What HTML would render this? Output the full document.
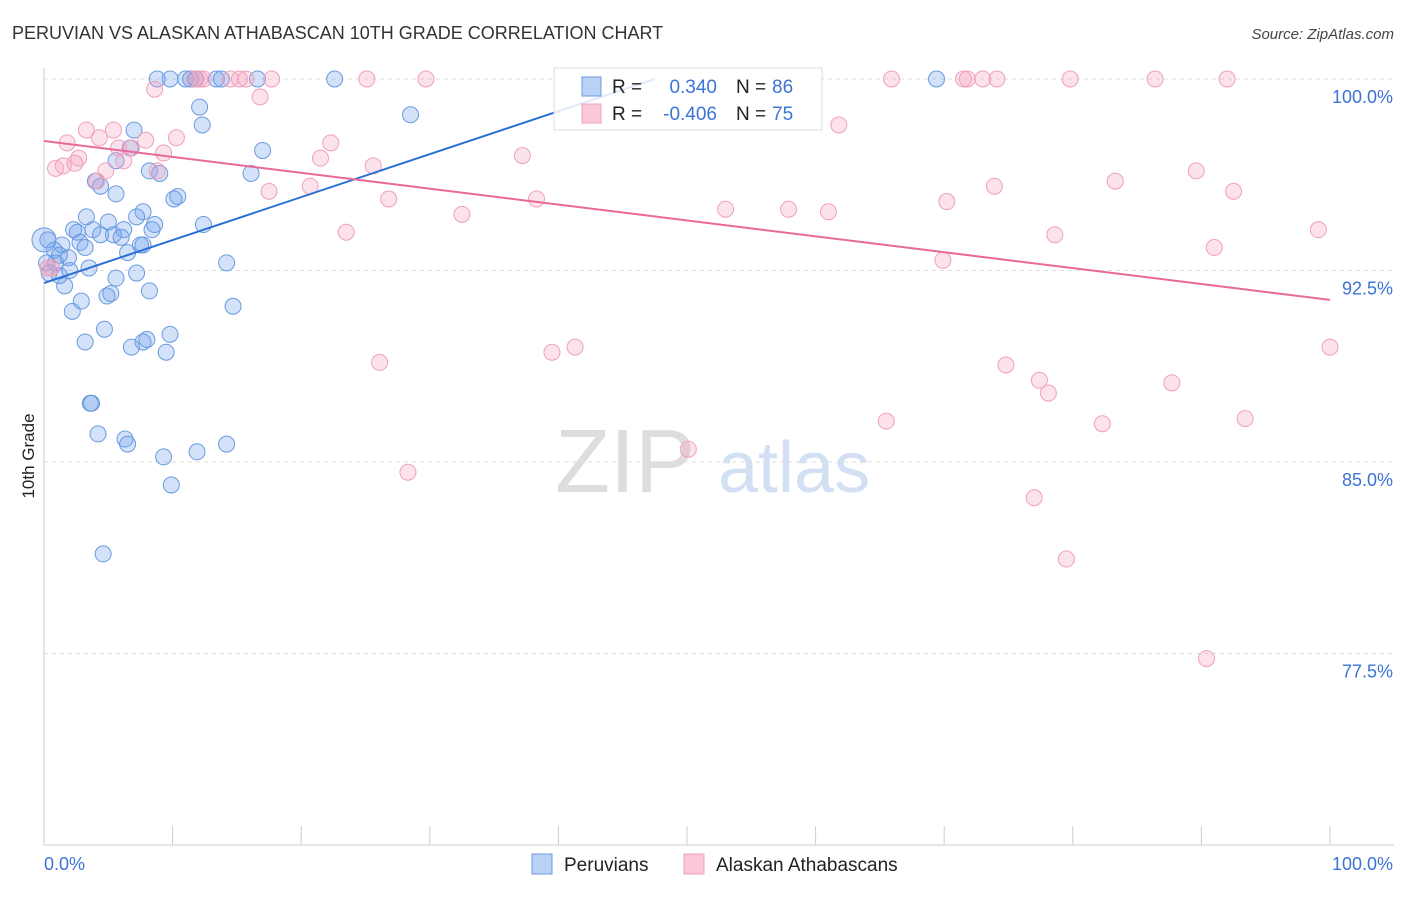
<!DOCTYPE html>
<html><head><meta charset="utf-8"><style>
body{margin:0;background:#fff;font-family:"Liberation Sans",sans-serif;}
svg text{font-family:"Liberation Sans",sans-serif;}
</style></head><body>
<svg id="chart" width="1406" height="892">
<text x="12" y="39" font-size="18" fill="#333">PERUVIAN VS ALASKAN ATHABASCAN 10TH GRADE CORRELATION CHART</text>
<text x="1394" y="39" font-size="15" fill="#444" font-style="italic" text-anchor="end">Source: ZipAtlas.com</text>
<text x="34" y="456" font-size="17" fill="#222" transform="rotate(-90 34 456)" text-anchor="middle">10th Grade</text>
<g><text x="555" y="492" font-size="90" fill="#ddd" font-family="Liberation Serif,serif">ZIP</text><text x="718" y="492" font-size="72" fill="#d3e0f4">atlas</text></g>
<g id="grid"></g><g id="axes"></g><g id="pts"></g><g id="lines"></g>
<g>
<rect x="554" y="68" width="268" height="62" fill="#fff" fill-opacity="0.85" stroke="#ddd"/>
<rect x="582" y="77" width="19" height="19" fill="#b9d2f5" stroke="#6a9be0"/>
<rect x="582" y="104" width="19" height="19" fill="#fac8d8" stroke="#f0a0bc"/>
<text x="612" y="93" font-size="19" fill="#222">R =</text>
<text x="717" y="93" font-size="19" fill="#3b73d6" text-anchor="end">0.340</text>
<text x="736" y="93" font-size="19" fill="#222">N =</text>
<text x="772" y="93" font-size="19" fill="#3b73d6">86</text>
<text x="612" y="120" font-size="19" fill="#222">R =</text>
<text x="717" y="120" font-size="19" fill="#3b73d6" text-anchor="end">-0.406</text>
<text x="736" y="120" font-size="19" fill="#222">N =</text>
<text x="772" y="120" font-size="19" fill="#3b73d6">75</text>
</g>
<g>
<rect x="532" y="854" width="20" height="20" fill="#b9d2f5" stroke="#6a9be0"/>
<text x="564" y="871" font-size="19" fill="#222">Peruvians</text>
<rect x="684" y="854" width="20" height="20" fill="#fac8d8" stroke="#f0a0bc"/>
<text x="716" y="871" font-size="19" fill="#222">Alaskan Athabascans</text>
</g>
</svg>
<script>
const yTicks=[100,92.5,85,77.5];
const yTickLabels=["100.0%","92.5%","85.0%","77.5%"];
const xTickLabels=["0.0%","100.0%"];
const blueX=[8.8,9.8,11.0,11.4,11.8,13.4,13.8,16.6,22.6,69.4,12.1,28.5,12.3,7.0,17.0,5.6,6.7,16.1,8.2,9.0,4.0,4.4,5.6,10.4,10.1,7.7,7.2,5.0,3.3,8.6,12.4,2.3,2.6,4.4,3.8,6.2,5.4,6.0,8.4,0.3,1.4,2.8,3.2,7.5,7.7,6.5,0.8,1.2,1.9,0.2,0.9,3.5,2.0,0.4,1.2,14.2,7.2,5.6,1.6,8.2,5.2,4.9,2.9,14.7,2.2,4.7,9.8,3.2,8.0,7.7,6.8,9.5,3.7,3.6,4.2,6.3,6.5,14.2,11.9,9.3,9.9,4.6,0.0];
const blueY=[100,100,100,100,100,100,100,100,100,100,98.9,98.6,98.2,98.0,97.2,96.8,97.3,96.3,96.4,96.3,96.0,95.8,95.5,95.4,95.3,94.8,94.6,94.4,94.6,94.3,94.3,94.1,94.0,93.9,94.1,94.1,93.9,93.8,94.1,93.7,93.5,93.6,93.4,93.5,93.5,93.2,93.3,93.1,93.0,92.8,92.8,92.6,92.5,92.4,92.3,92.8,92.4,92.2,91.9,91.7,91.6,91.5,91.3,91.1,90.9,90.2,90.0,89.7,89.8,89.7,89.5,89.3,87.3,87.3,86.1,85.9,85.7,85.7,85.4,85.2,84.1,81.4,93.7];
const pinkX=[8.6,11.7,12.1,12.4,14.5,15.2,15.7,17.7,25.1,29.7,65.9,71.5,71.8,73.0,74.1,79.8,86.4,92.0,16.8,61.8,3.3,5.4,1.8,4.3,7.9,10.3,22.3,5.8,6.8,9.3,21.5,37.2,2.7,2.4,0.9,1.5,6.2,4.8,4.1,8.8,25.6,89.6,83.3,73.9,92.5,20.7,17.5,26.8,38.3,70.2,53.0,57.9,61.0,32.5,23.5,78.6,99.1,91.0,69.9,0.3,0.6,39.5,41.3,26.1,100,74.8,77.4,78.1,87.7,65.5,82.3,93.4,50.1,28.3,77.0,79.5,90.4];
const pinkY=[99.6,100,100,100,100,100,100,100,100,100,100,100,100,100,100,100,100,100,99.3,98.2,98.0,98.0,97.5,97.7,97.6,97.7,97.5,97.3,97.3,97.1,96.9,97.0,96.9,96.7,96.5,96.6,96.8,96.4,96.0,96.4,96.6,96.4,96.0,95.8,95.6,95.8,95.6,95.3,95.3,95.2,94.9,94.9,94.8,94.7,94.0,93.9,94.1,93.4,92.9,92.6,92.6,89.3,89.5,88.9,89.5,88.8,88.2,87.7,88.1,86.6,86.5,86.7,85.5,84.6,83.6,81.2,77.3];
const blueTrend=[[0,92.01],[47.5,100]];
const pinkTrend=[[0,97.57],[100,91.35]];
const NS="http://www.w3.org/2000/svg";
const X=v=>44+v*12.86, Y=v=>79+(100-v)/7.5*191.5;
function mk(t,a,p){const e=document.createElementNS(NS,t);for(const k in a)e.setAttribute(k,a[k]);document.getElementById(p).appendChild(e);return e;}
yTicks.forEach((t,i)=>{
 const g=mk('line',{x1:44,x2:1394,y1:Y(t),y2:Y(t),stroke:'#ddd','stroke-dasharray':'4,4'},'grid');
 
 
 const l=mk('text',{x:1393,y:Y(t)+24,'font-size':18,fill:'#3b73d6','text-anchor':'end'},'axes');l.textContent=yTickLabels[i];
 
 
});
const ax=mk('line',{x1:44,x2:1394,y1:845,y2:845,stroke:'#ccc'},'axes');


const ay=mk('line',{x1:44,x2:44,y1:68,y2:845,stroke:'#ccc'},'axes');


for(let i=0;i<=10;i++){const t=mk('line',{x1:X(i*10),x2:X(i*10),y1:826,y2:845,stroke:'#ccc'},'axes');
 
 }
const xl0=mk('text',{x:44,y:870,'font-size':18,fill:'#3b73d6'},'axes');xl0.textContent=xTickLabels[0];


const xl1=mk('text',{x:1393,y:870,'font-size':18,fill:'#3b73d6','text-anchor':'end'},'axes');xl1.textContent=xTickLabels[1];


blueX.forEach((v,i)=>{const c=mk('circle',{cx:X(v),cy:Y(blueY[i]),r:i==blueX.length-1?12:8,fill:'rgba(110,160,235,0.3)',stroke:'#6a9be0','stroke-width':1},'pts');
 
 });
pinkX.forEach((v,i)=>{const c=mk('circle',{cx:X(v),cy:Y(pinkY[i]),r:8,fill:'rgba(245,160,190,0.3)',stroke:'#f0a0bc','stroke-width':1},'pts');
 
 });
const bl=mk('line',{x1:X(blueTrend[0][0]),y1:Y(blueTrend[0][1]),x2:X(blueTrend[1][0]),y2:Y(blueTrend[1][1]),stroke:'#2b6fd6','stroke-width':2},'lines');


const pl=mk('line',{x1:X(pinkTrend[0][0]),y1:Y(pinkTrend[0][1]),x2:X(pinkTrend[1][0]),y2:Y(pinkTrend[1][1]),stroke:'#e8699a','stroke-width':2},'lines');


</script>
</body></html>
